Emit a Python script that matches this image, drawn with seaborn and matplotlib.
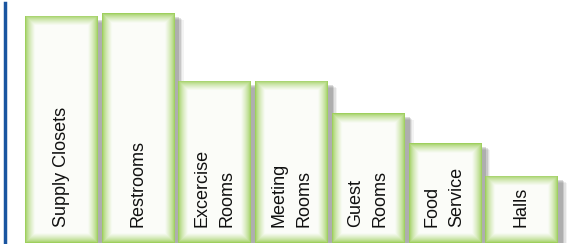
#!/usr/bin/env python3
# bars with green glow, labels inside

import numpy as np
import pandas as pd
import seaborn as sns
import matplotlib.pyplot as plt
import matplotlib.patheffects as pe
from matplotlib.colors import to_rgb

# Data =========================================================================

rooms = ['Supply Closets', 'Restrooms', 'Excercise\nRooms', 'Meeting\nRooms',
         'Guest\nRooms', 'Food\nService', 'Halls']
values = [68, 69, 48.5, 48.5, 39, 30, 20]

GREEN = '#8cc63f'
BLUE = '#1a55a0'


def glow_image(w_px, h_px, depth=10.0):
    # distance to nearest edge, in pixels -> green at the rim, white inside
    xs = np.arange(int(w_px)) + 0.5
    ys = np.arange(int(h_px)) + 0.5
    dx = np.minimum(xs, w_px - xs)[None, :]
    dy = np.minimum(ys, h_px - ys)[:, None]
    d = np.minimum(dx, dy)
    t = np.clip(d / depth, 0, 1) ** 0.6
    g = np.array(to_rgb(GREEN))
    w = np.array([0.985, 0.99, 0.975])
    return g[None, None, :] * (1 - t[..., None]) + w[None, None, :] * t[..., None]


def main():
    sns.set_theme(style='white')
    plt.rcParams['font.family'] = ['Liberation Sans', 'DejaVu Sans']

    df = pd.DataFrame({'Room': rooms, 'Value': values})

    fig = plt.figure(figsize=(5.82, 2.44), dpi=100)
    ax = fig.add_axes([5 / 582, 1 / 244, 577 / 582, 240 / 244])
    sns.barplot(data=df, x='Room', y='Value', color=GREEN, width=0.94,
                saturation=1, ax=ax)

    ax.set_xlim(-0.73, 6.79)
    ax.set_ylim(0, 72)
    ax.set(xlabel='', ylabel='', xticks=[], yticks=[])
    for s in ('top', 'right', 'bottom'):
        ax.spines[s].set_visible(False)
    ax.spines['left'].set_color(BLUE)
    ax.spines['left'].set_linewidth(2.5)

    px_x = 577 / (6.79 + 0.73)
    px_y = 240 / 72
    shadow = [pe.SimplePatchShadow(offset=(o, -o * 0.7), shadow_rgbFace='k',
                                   alpha=a) for o, a in ((7, 0.05), (6, 0.08),
                                                         (5, 0.12), (4, 0.15))]
    for p in ax.patches:
        x0, y0 = p.get_x(), p.get_y()
        w, h = p.get_width(), p.get_height()
        p.set_linewidth(0)
        p.set_path_effects(shadow + [pe.Normal()])
        img = glow_image(w * px_x, h * px_y)
        im = ax.imshow(img, extent=(x0, x0 + w, y0, y0 + h), aspect='auto',
                       origin='lower', zorder=3, interpolation='bilinear')
        im.set_clip_path(p)

    for i, label in enumerate(rooms):
        ax.text(i, 4.8, label, rotation=90, ha='center', va='bottom',
                multialignment='left', fontsize=13, color='#111111',
                linespacing=1.6, zorder=5)

    fig.savefig('out.png', dpi=100)


if __name__ == '__main__':
    main()
